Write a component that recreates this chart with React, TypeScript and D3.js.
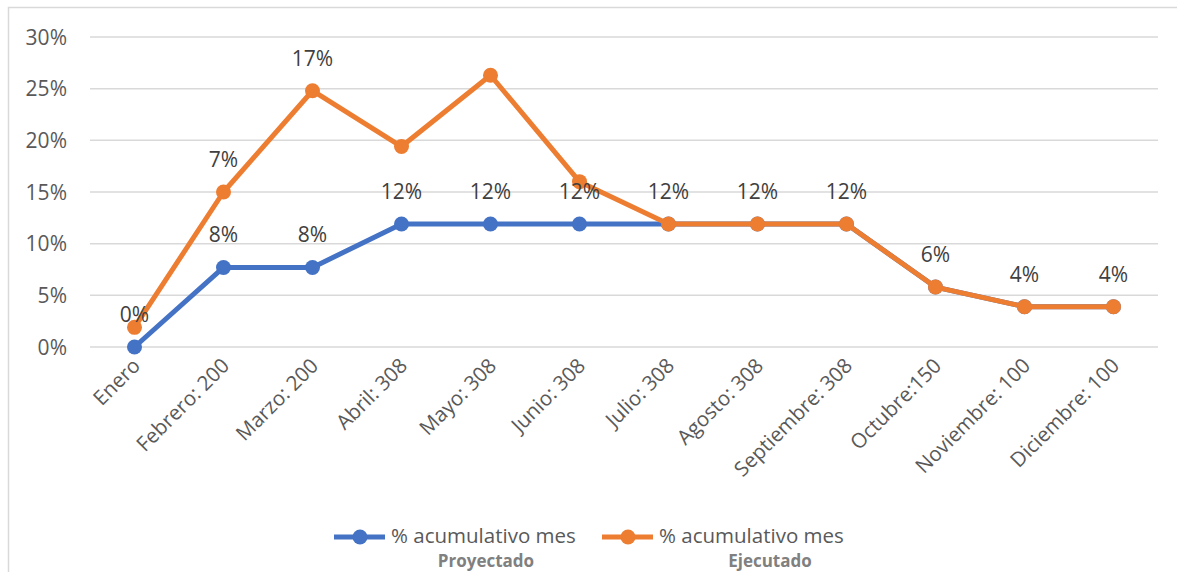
import * as d3 from 'd3'

const meses = [
  'Enero',
  'Febrero: 200',
  'Marzo: 200',
  'Abril: 308',
  'Mayo: 308',
  'Junio: 308',
  'Julio: 308',
  'Agosto: 308',
  'Septiembre: 308',
  'Octubre:150',
  'Noviembre: 100',
  'Diciembre: 100',
]
// % acumulativo mes - Proyectado
const proyectado = [0, 7.7, 7.7, 11.9, 11.9, 11.9, 11.9, 11.9, 11.9, 5.8, 3.9, 3.9]
// % acumulativo mes - Ejecutado
const ejecutado = [1.9, 15.0, 24.8, 19.4, 26.3, 16.0, 11.9, 11.9, 11.9, 5.8, 3.9, 3.9]
// data labels as shown in the chart (null = no label)
const etiquetasProy = ['0%', '8%', '8%', '12%', '12%', '12%', '12%', '12%', '12%', '6%', '4%', '4%']
const etiquetasEjec = [null, '7%', '17%', null, null, null, null, null, null, null, null, null]
const yTicks = [0, 5, 10, 15, 20, 25, 30]

const W = 1177
const H = 572
const AZUL = '#4472C4'
const NARANJA = '#ED7D31'
const FONT = '"Open Sans", "Noto Sans", sans-serif'

interface Pt {
  x: number
  y: number
}

const App = () => {
  const x = d3.scaleBand<string>().domain(meses).range([90, 1158])
  const y = d3.scaleLinear().domain([0, 30]).range([347, 37])
  const cx = (m: string) => (x(m) ?? 0) + x.bandwidth() / 2

  const line = d3
    .line<Pt>()
    .x((d) => d.x)
    .y((d) => d.y)

  const series = [
    { vals: proyectado, color: AZUL, labels: etiquetasProy },
    { vals: ejecutado, color: NARANJA, labels: etiquetasEjec },
  ]

  const legend = [
    { x0: 334, color: AZUL, sub: 'Proyectado', subX: 486 },
    { x0: 602, color: NARANJA, sub: 'Ejecutado', subX: 770 },
  ]

  return (
    <svg
      width={W}
      height={H}
      style={{ position: 'absolute', left: 0, top: 0, background: '#fff' }}
      fontFamily={FONT}
    >
      <rect x={8.5} y={7.5} width={W + 10} height={H + 10} fill="#fff" stroke="#d9d9d9" strokeWidth={1.5} />
      {yTicks.map((t) => (
        <g key={t}>
          <line x1={90} x2={1158} y1={y(t)} y2={y(t)} stroke="#d9d9d9" strokeWidth={1.5} />
          <text x={67} y={y(t)} dy="0.36em" textAnchor="end" fontSize={21} fill="#595959">
            {t}%
          </text>
        </g>
      ))}
      {meses.map((m) => (
        <text
          key={m}
          transform={`translate(${cx(m) + 2},${362}) rotate(-45)`}
          textAnchor="end"
          dy="0.35em"
          fontSize={20.5}
          fill="#595959"
        >
          {m}
        </text>
      ))}
      {series.map((s, i) => {
        const pts: Pt[] = meses.map((m, j) => ({ x: cx(m), y: y(s.vals[j]) }))
        return (
          <g key={i}>
            <path d={line(pts) ?? undefined} fill="none" stroke={s.color} strokeWidth={5} strokeLinejoin="round" />
            {pts.map((p, j) => (
              <circle key={j} cx={p.x} cy={p.y} r={7.5} fill={s.color} />
            ))}
          </g>
        )
      })}
      {series.map((s, i) =>
        meses.map((m, j) =>
          s.labels[j] ? (
            <text
              key={`${i}-${j}`}
              x={cx(m)}
              y={y(s.vals[j]) - 25}
              textAnchor="middle"
              fontSize={21}
              fill="#404040"
            >
              {s.labels[j]}
            </text>
          ) : null
        )
      )}
      {legend.map((l, i) => (
        <g key={i}>
          <line x1={l.x0} x2={l.x0 + 51} y1={537} y2={537} stroke={l.color} strokeWidth={5} />
          <circle cx={l.x0 + 26} cy={537} r={7.5} fill={l.color} />
          <text x={l.x0 + 57} y={536} dy="0.35em" fontSize={20.5} fill="#595959">
            % acumulativo mes
          </text>
          <text x={l.subX} y={561.5} dy="0.35em" textAnchor="middle" fontSize={17} fontWeight="bold" fill="#808080">
            {l.sub}
          </text>
        </g>
      ))}
    </svg>
  )
}

export default App
